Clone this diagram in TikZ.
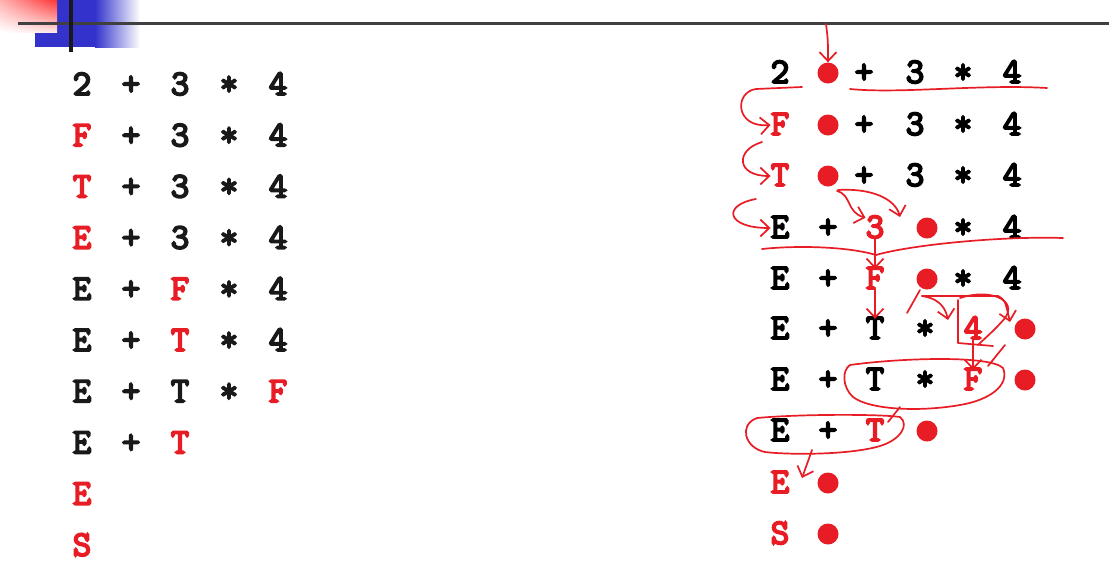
\documentclass[tikz,border=0pt]{standalone}
\usepackage{fontspec}
\setmonofont{Latin Modern Mono}[AutoFakeBold=5]
\usetikzlibrary{matrix,arrows.meta,shadings}

\definecolor{ntred}{RGB}{232,28,36}
\definecolor{slideblue}{RGB}{51,51,204}

\tikzset{
  tok/.style={font=\ttfamily\bfseries\fontsize{36}{40}\selectfont, text=black!90,
    inner sep=0pt, text height=20pt, text depth=0pt},
  nt/.style={tok, text=ntred},
  dot/.style={circle, fill=ntred, minimum size=21pt, inner sep=0pt},
  annot/.style={draw=ntred, line width=1.7pt, line cap=round, line join=round},
  barb/.style={-{Straight Barb[length=9pt,width=17pt]}}
}

\begin{document}
\begin{tikzpicture}[x=1pt, y=-1pt]
  \useasboundingbox[fill=white] (0,0) rectangle (1109,571);

  % slide decoration
  \fill[slideblue] (35,0) rectangle (95,47);
  \shade[left color=slideblue, right color=white] (95,0) rectangle (140,47);
  \shade[upper left=red!30, upper right=red!80, lower left=white, lower right=red!10] (0,0) rectangle (57,32);
  \draw[line width=3pt, black!75] (18,23) -- (1109,23);
  \draw[line width=4pt, black!90] (71,0) -- (71,52);

  % derivation, left
  \matrix (lhs) [matrix of nodes, row sep=0pt, column sep=0pt,
    nodes={tok, anchor=center, minimum width=49pt, minimum height=51.2pt},
    matrix anchor=lhs-1-1.center] at (82,85)
  {
    2 & + & 3 & * & 4 \\
    |[nt]| F & + & 3 & * & 4 \\
    |[nt]| T & + & 3 & * & 4 \\
    |[nt]| E & + & 3 & * & 4 \\
    E & + & |[nt]| F & * & 4 \\
    E & + & |[nt]| T & * & 4 \\
    E & + & T & * & |[nt]| F \\
    E & + & |[nt]| T \\
    |[nt]| E \\
    |[nt]| S \\
  };

  % parse with the dot, right
  \foreach \n/\x/\t/\c in {1/780/2/black,3/864/+/black,4/915/3/black,5/963/*/black,6/1012/4/black}
    \node[tok, text=\c] (r1-\n) at (\x,73) {\t};
  \node[dot] (d1) at (828,73) {};
  \foreach \n/\x/\t/\c in {1/780/F/ntred,3/864/+/black,4/915/3/black,5/963/*/black,6/1012/4/black}
    \node[tok, text=\c] (r2-\n) at (\x,125) {\t};
  \node[dot] (d2) at (828,125) {};
  \foreach \n/\x/\t/\c in {1/780/T/ntred,3/864/+/black,4/915/3/black,5/963/*/black,6/1012/4/black}
    \node[tok, text=\c] (r3-\n) at (\x,176) {\t};
  \node[dot] (d3) at (828,176) {};
  \foreach \n/\x/\t/\c in {1/780/E/black,2/828/+/black,3/875/3/ntred,5/963/*/black,6/1012/4/black}
    \node[tok, text=\c] (r4-\n) at (\x,228) {\t};
  \node[dot] (d4) at (927,228) {};
  \foreach \n/\x/\t/\c in {1/780/E/black,2/828/+/black,3/875/F/ntred,5/963/*/black,6/1012/4/black}
    \node[tok, text=\c] (r5-\n) at (\x,279) {\t};
  \node[dot] (d5) at (927,279) {};
  \foreach \n/\x/\t/\c in {1/780/E/black,2/828/+/black,3/875/T/black,4/925/*/black,5/973/4/ntred}
    \node[tok, text=\c] (r6-\n) at (\x,329) {\t};
  \node[dot] (d6) at (1025,329) {};
  \foreach \n/\x/\t/\c in {1/780/E/black,2/828/+/black,3/875/T/black,4/925/*/black,5/973/F/ntred}
    \node[tok, text=\c] (r7-\n) at (\x,380) {\t};
  \node[dot] (d7) at (1025,380) {};
  \foreach \n/\x/\t/\c in {1/780/E/black,2/828/+/black,3/875/T/ntred}
    \node[tok, text=\c] (r8-\n) at (\x,431) {\t};
  \node[dot] (d8) at (927,431) {};
  \node[nt] (r9-1) at (780,483) {E};
  \node[dot] (d9) at (828,483) {};
  \node[nt] (r10-1) at (780,534) {S};
  \node[dot] (d10) at (828,534) {};

  % handwritten notes
  \draw[annot, barb] (826,24) .. controls (828,40) .. (d1.north);
  \draw[annot, barb] (802,87) -- (756,89) .. controls (734,92) and (735,128) .. (r2-1.west);
  \draw[annot] (850,89) .. controls (900,94) and (980,84) .. (1047,88);
  \draw[annot, barb] (762,142) .. controls (735,150) and (736,176) .. (r3-1.west);
  \draw[annot, barb] (756,199) .. controls (722,205) and (726,228) .. (r4-1.west);
  \draw[annot, barb] (837,191) .. controls (852,195) and (846,212) .. (r4-3.north west);
  \draw[annot, barb] (838,190) .. controls (870,188) and (895,198) .. (900,217);
  \draw[annot] (762,249) .. controls (800,245) and (850,247) .. (876,255)
    .. controls (910,245) and (1000,236) .. (1063,238);
  \draw[annot, barb] (r4-3.south) -- (r5-3.north);
  \draw[annot, barb] (r5-3.south) -- (r6-3.north);
  \draw[annot] (920,290) -- (907,313);
  \draw[annot, barb] (922,296) .. controls (936,298) and (945,305) .. (948,320);
  \draw[annot, barb] (922,296) -- (998,296) .. controls (1005,300) .. (1010,322);
  \draw[annot] (958,300) -- (958,343) -- (993,346);
  \draw[annot] (960,298) .. controls (990,288) and (1018,300) .. (1005,318) .. controls (995,330) and (985,338) .. (978,345);
  \draw[annot, barb] (r6-5.south) -- (r7-5.north);
  \draw[annot] (1005,345) -- (988,366);
  \draw[annot] (850,365) .. controls (900,358) and (990,355) .. (1003,368)
    .. controls (1010,385) and (990,400) .. (960,405)
    .. controls (920,412) and (870,410) .. (853,397)
    .. controls (842,387) and (842,370) .. (850,365);
  \draw[annot] (900,407) -- (888,422);
  \draw[annot] (757,418) .. controls (800,414) and (880,414) .. (900,417)
    .. controls (910,425) and (900,440) .. (880,446)
    .. controls (850,455) and (790,455) .. (765,452)
    .. controls (745,448) and (738,425) .. (757,418);
  \draw[annot, barb] (812,450) -- (802,478);
\end{tikzpicture}
\end{document}
